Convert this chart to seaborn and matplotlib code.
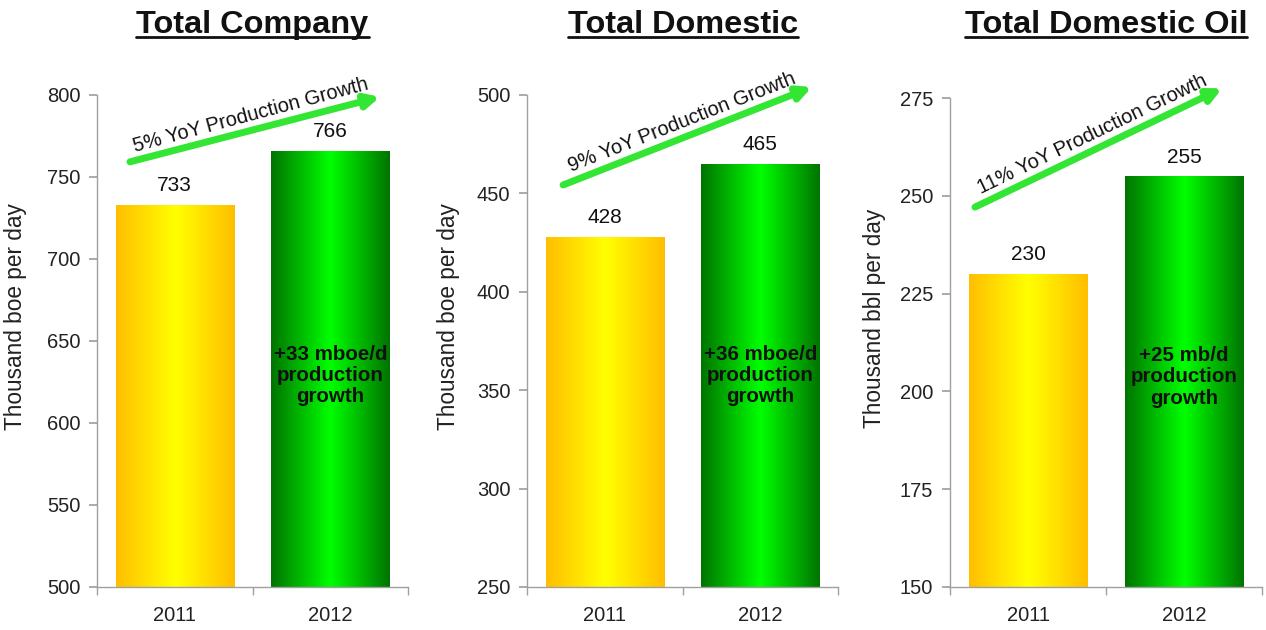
import numpy as np
import pandas as pd
import matplotlib
matplotlib.use('Agg')
import matplotlib.pyplot as plt
import matplotlib.transforms as mtransforms
from matplotlib.colors import LinearSegmentedColormap
from matplotlib.lines import Line2D
import seaborn as sns

# data
years = ['2011', '2012']
company = [733, 766]
domestic = [428, 465]
domestic_oil = [230, 255]

titles = ['Total Company', 'Total Domestic', 'Total Domestic Oil']
ylabels = ['Thousand boe per day', 'Thousand boe per day', 'Thousand bbl per day']
growth_labels = ['5% YoY Production Growth', '9% YoY Production Growth', '11% YoY Production Growth']
inner_labels = ['+33 mboe/d\nproduction\ngrowth', '+36 mboe/d\nproduction\ngrowth', '+25 mb/d\nproduction\ngrowth']
ylims = [(500, 800), (250, 500), (150, 275)]
ysteps = [50, 50, 25]

sns.set_theme(style='white')
plt.rcParams['font.family'] = ['Liberation Sans', 'DejaVu Sans']

yellow_cmap = LinearSegmentedColormap.from_list('yel', ['#ffbe00', '#ffff00', '#ffbe00'])
green_cmap = LinearSegmentedColormap.from_list('grn', ['#007400', '#00ff00', '#007400'])

fig = plt.figure(figsize=(12.66, 6.3), dpi=100)
positions = [[0.0766, 0.0683, 0.2457, 0.781],
             [0.4163, 0.0683, 0.2457, 0.781],
             [0.7504, 0.0683, 0.2465, 0.776]]
# arrow start/end in axes fraction, rotation in degrees
arrows = [((0.106, 0.864), (0.91, 0.996), 15.0),
          ((0.116, 0.817), (0.916, 1.016), 21.5),
          ((0.08, 0.777), (0.872, 1.02), 25.7)]
label_x = [-0.225, -0.215, -0.205]

series = [company, domestic, domestic_oil]
for i, vals in enumerate(series):
    ax = fig.add_axes(positions[i])
    df = pd.DataFrame({'year': years, 'value': vals})
    sns.barplot(data=df, x='year', y='value', ax=ax, width=0.76,
                color='white', saturation=1)
    lo, hi = ylims[i]
    ax.set_ylim(lo, hi)
    ax.set_xlim(-0.5, 1.5)
    ax.set_yticks(np.arange(lo, hi + 1, ysteps[i]))

    # gradient fill clipped to each bar
    grad = np.linspace(0, 1, 256).reshape(1, -1)
    for patch, cmap in zip(ax.patches, [yellow_cmap, green_cmap]):
        x0, y0 = patch.get_x(), patch.get_y()
        w, h = patch.get_width(), patch.get_height()
        patch.set_edgecolor('none')
        im = ax.imshow(grad, cmap=cmap, aspect='auto',
                       extent=[x0, x0 + w, lo, y0 + h], zorder=2)
        im.set_clip_path(patch)

    ax.bar_label(ax.containers[0], labels=[str(v) for v in vals],
                 padding=7, fontsize=15, color='#111111')

    # inner text on the 2012 bar
    trans = mtransforms.blended_transform_factory(ax.transData, ax.transAxes)
    ax.text(1, 0.43, inner_labels[i], transform=trans, ha='center', va='center',
            fontsize=14.8, fontweight='bold', color='#111111', zorder=5, linespacing=1.15)

    # growth arrow
    (sx, sy), (ex, ey), rot = arrows[i]
    ax.annotate('', xy=(ex, ey), xytext=(sx, sy), xycoords='axes fraction',
                textcoords='axes fraction', annotation_clip=False,
                arrowprops=dict(arrowstyle='-|>', lw=5, color='#33e633',
                                mutation_scale=20, shrinkA=0, shrinkB=0))
    r = np.deg2rad(rot)
    off = mtransforms.offset_copy(ax.transAxes, fig=fig, x=-np.sin(r) * 4,
                                  y=np.cos(r) * 4, units='points')
    ax.text((sx + ex) / 2, (sy + ey) / 2, growth_labels[i], transform=off,
            rotation=rot, rotation_mode='anchor', ha='center', va='bottom',
            fontsize=14.5, color='#111111', clip_on=False)

    # axes styling
    sns.despine(ax=ax)
    for s in ['left', 'bottom']:
        ax.spines[s].set_color('#a0a0a0')
        ax.spines[s].set_linewidth(1)
    ax.tick_params(axis='y', left=True, length=6, color='#a0a0a0',
                   labelsize=14.5, labelcolor='#222222', pad=6)
    ax.tick_params(axis='x', bottom=False, labelsize=14.5, labelcolor='#222222', pad=8)
    ax.set_xticks([-0.5, 0.5, 1.5], minor=True)
    ax.tick_params(axis='x', which='minor', bottom=True, length=6, color='#a0a0a0')
    ax.set_xlabel('')
    ax.set_ylabel(ylabels[i], fontsize=16.3, color='#222222')
    ax.yaxis.set_label_coords(label_x[i], 0.55)

    # title, centred over the axes
    pos = ax.get_position()
    fig.text((pos.x0 + pos.x1) / 2, 1 - 33 / 630, titles[i], ha='center',
             va='baseline', fontsize=23.4, fontweight='bold', color='#111111')

# underline the titles
fig.canvas.draw()
renderer = fig.canvas.get_renderer()
for t in fig.texts:
    bb = t.get_window_extent(renderer)
    yline = 1 - 37 / 630
    fig.add_artist(Line2D([bb.x0 / fig.bbox.width, bb.x1 / fig.bbox.width],
                          [yline, yline], transform=fig.transFigure,
                          color='#111111', lw=2))

fig.savefig('out.png', dpi=100)
